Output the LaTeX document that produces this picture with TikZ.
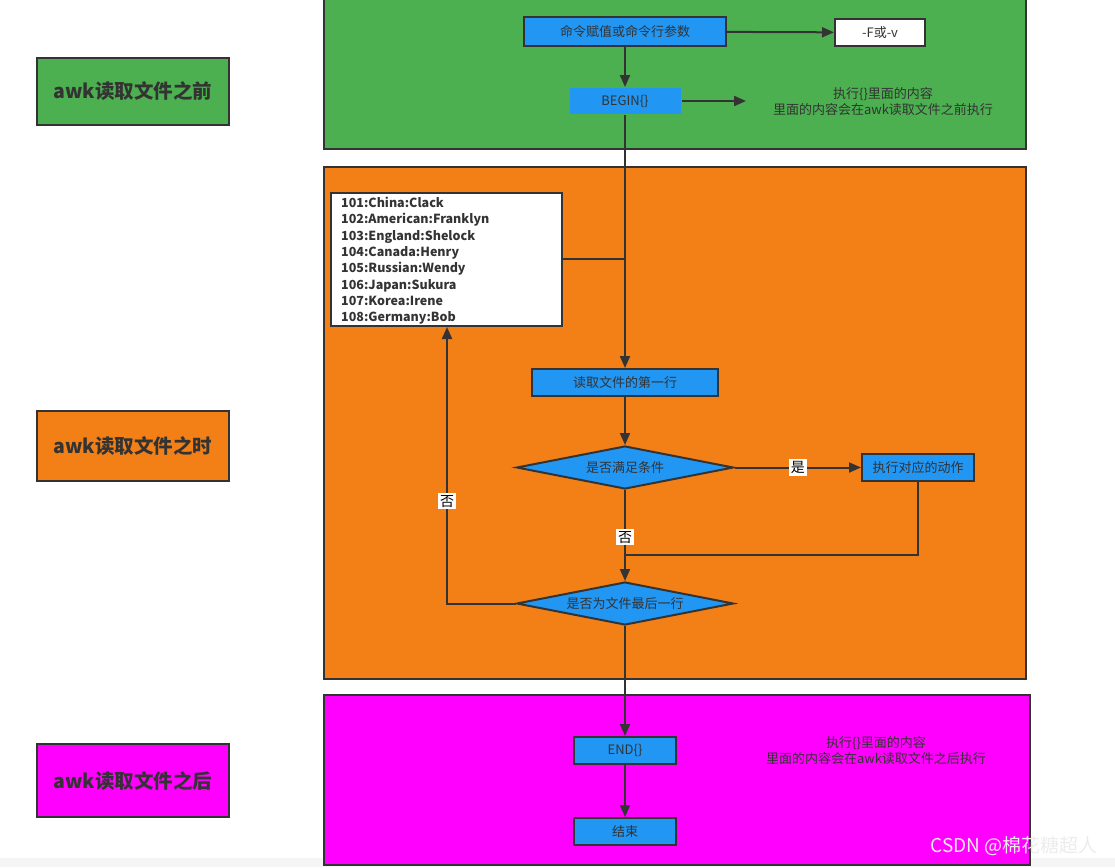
\documentclass[tikz,border=0pt]{standalone}
\usepackage{fontspec}
\setmainfont{Noto Sans CJK SC}
\usetikzlibrary{arrows.meta,shapes.geometric}
\definecolor{pgreen}{RGB}{76,175,80}
\definecolor{porange}{RGB}{243,128,23}
\definecolor{pmag}{RGB}{255,0,255}
\definecolor{pblue}{RGB}{33,150,243}
\definecolor{edge}{RGB}{51,51,51}
\definecolor{txt}{RGB}{51,51,51}
\tikzset{
  panel/.style={draw=edge, line width=2pt},
  tag/.style={draw=edge, line width=2pt, minimum width=192pt, font=\fontsize{19.5}{22}\selectfont\bfseries, text=txt, inner sep=0pt},
  proc/.style={draw=edge, line width=2pt, fill=pblue, font=\fontsize{13}{15}\selectfont, text=txt, inner sep=0pt},
  dec/.style={diamond, aspect=5, draw=edge, line width=2pt, fill=pblue, font=\fontsize{13}{15}\selectfont, text=txt, inner sep=0pt, minimum width=217pt, minimum height=43pt},
  note/.style={font=\fontsize{13}{16}\selectfont, text=txt, align=center},
  conn/.style={draw=edge, line width=2pt, -{Triangle[length=12pt,width=10pt]}},
  plain/.style={draw=edge, line width=2pt},
  elab/.style={fill=white, font=\fontsize{14}{16}\selectfont, text=black, inner sep=2pt},
}
\begin{document}
\begin{tikzpicture}[x=1pt,y=-1pt]
\useasboundingbox (0,0) rectangle (1115,867);
\fill[gray!8] (0,858) rectangle (1115,867);
% panels
\draw[panel, fill=pgreen] (324,-2) rectangle (1026,149);
\draw[panel, fill=porange] (324,167) rectangle (1026,679);
\draw[panel, fill=pmag] (324,695) rectangle (1030,865);
% tags
\node[tag, fill=pgreen, minimum height=67pt] (tbefore) at (133,91.5) {awk读取文件之前};
\node[tag, fill=porange, minimum height=70pt] (tduring) at (133,446) {awk读取文件之时};
\node[tag, fill=pmag, minimum height=73pt] (tafter) at (133,780.5) {awk读取文件之后};
% green part
\node[proc, minimum width=202pt, minimum height=29pt] (cmd) at (625,31.5) {命令赋值或命令行参数};
\node[proc, fill=white, minimum width=90pt, minimum height=27pt] (fv) at (880,32.5) {-F或-v};
\node[proc, draw=none, minimum width=111pt, minimum height=26pt] (begin) at (625,101) {BEGIN\{\}};
\coordinate (bnote) at (746,101);
\node[note] (nbefore) at (883,102) {执行\{\}里面的内容\\里面的内容会在awk读取文件之前执行};
\draw[conn] (cmd) -- (fv);
\draw[conn] (cmd) -- (begin);
\draw[conn] (begin.east) -- (bnote);
% orange part
\node[draw=edge, line width=2pt, fill=white, minimum width=231pt, minimum height=133pt, inner sep=0pt] (data) at (446.5,259.5) {};
\node[anchor=north west, align=left, font=\fontsize{12.5}{16.3}\selectfont\bfseries, text=txt, inner sep=0pt] (datatext) at (341,197) {101:China:Clack\\102:American:Franklyn\\103:England:Shelock\\104:Canada:Henry\\105:Russian:Wendy\\106:Japan:Sukura\\107:Korea:Irene\\108:Germany:Bob};
\node[proc, minimum width=186pt, minimum height=27pt] (first) at (625,382.5) {读取文件的第一行};
\node[dec] (cond) at (625,467.5) {是否满足条件};
\node[proc, minimum width=112pt, minimum height=27pt] (act) at (918,467.5) {执行对应的动作};
\node[dec] (last) at (625,603.5) {是否为文件最后一行};
\coordinate (j1) at (625,259);
\coordinate (j2) at (625,555);
\coordinate (lc) at (447,603.5);
\draw[conn] (begin.south) -- (first.north);
\draw[plain] (data.east |- j1) -- (j1);
\draw[conn] (first) -- (cond);
\draw[conn] (cond.east) -- node[elab, pos=0.5] {是} (act.west);
\draw[conn] (cond.south) -- node[elab, pos=0.52] {否} (last.north);
\draw[plain] (act.south) |- (j2);
\draw[conn] (last.west) -- (lc) -- node[elab, pos=0.37] {否} (lc |- data.south);
% magenta part
\node[proc, minimum width=102pt, minimum height=27pt] (endn) at (625,750.5) {END\{\}};
\node[proc, minimum width=102pt, minimum height=27pt] (fin) at (625,831.5) {结束};
\node[note] (nafter) at (876,751) {执行\{\}里面的内容\\里面的内容会在awk读取文件之后执行};
\draw[conn] (last.south) -- (endn.north);
\draw[conn] (endn) -- (fin);
% watermark
\node[font=\fontsize{19}{22}\selectfont, text=white!85!gray, anchor=east] (wm) at (1101,846) {CSDN @棉花糖超人};
\end{tikzpicture}
\end{document}
